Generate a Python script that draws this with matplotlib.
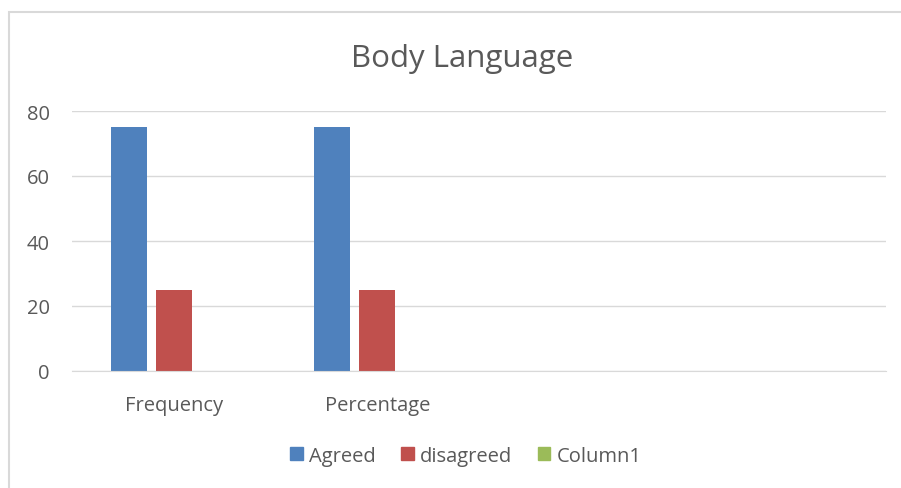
import matplotlib.pyplot as plt
from matplotlib.patches import Rectangle
import numpy as np

categories = ['Frequency', 'Percentage', '', '']
agreed = [75, 75, 0, 0]
disagreed = [25, 25, 0, 0]
column1 = [0, 0, 0, 0]
series_names = ['Agreed', 'disagreed', 'Column1']
colors = ['#4f81bd', '#c0504d', '#9bbb59']
yticks = [0, 20, 40, 60, 80]

plt.rcParams['font.family'] = ['Open Sans', 'DejaVu Sans']
text_color = '#595959'

fig = plt.figure(figsize=(9.01, 4.89), dpi=100)
fig.patches.append(Rectangle((9 / 901, -0.1), 1.1, (489 - 13) / 489 + 0.1,
                             transform=fig.transFigure, fill=False,
                             edgecolor='#d9d9d9', linewidth=1.5))

ax = fig.add_axes([72 / 901, (489 - 372) / 489, 814 / 901, 260 / 489])
x = np.arange(len(categories))
w = 0.177
step = 0.221
for i, vals in enumerate([agreed, disagreed, column1]):
    ax.bar(x + (i - 1) * step, vals, w, color=colors[i], label=series_names[i])

ax.set_xlim(-0.5, len(categories) - 0.5)
ax.set_ylim(0, 80)
ax.set_yticks(yticks)
ax.set_xticks(x)
ax.set_xticklabels(categories)
ax.grid(axis='y', color='#d9d9d9', linewidth=1)
ax.set_axisbelow(True)
for s in ['top', 'right', 'left']:
    ax.spines[s].set_visible(False)
ax.spines['bottom'].set_color('#d9d9d9')
ax.tick_params(length=0, labelsize=14.5, labelcolor=text_color)
ax.tick_params(axis='y', pad=16)
ax.tick_params(axis='x', pad=17)

fig.text(462 / 901, 1 - 59 / 489, 'Body Language', ha='center', va='center',
         fontsize=22.5, color=text_color)

handles = [Rectangle((0, 0), 1, 1, color=c) for c in colors]
fig.legend(handles, series_names, loc='center', bbox_to_anchor=(466 / 901, 1 - 457 / 489),
           ncol=3, frameon=False, fontsize=14.5, labelcolor=text_color,
           handlelength=0.62, handleheight=0.62, handletextpad=0.33, columnspacing=1.25)

fig.savefig('out.png', dpi=100)
